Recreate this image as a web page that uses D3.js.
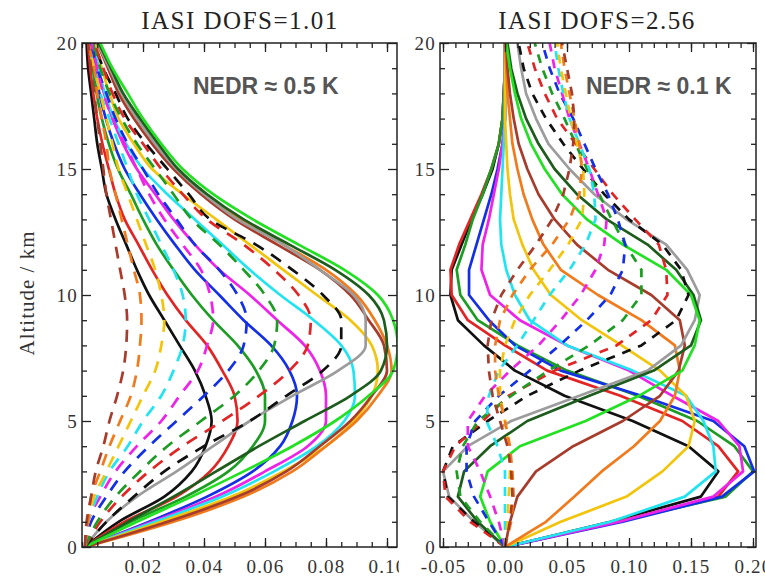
<!DOCTYPE html>
<html><head><meta charset="utf-8">
<script src="https://cdn.jsdelivr.net/npm/d3@7"></script>
<style>body{margin:0;background:#fff}svg{display:block}</style>
</head><body>
<svg id="chart" width="765" height="581"></svg>
<script>
// ---------------- DATA ----------------
const altitudes = [0,1,2,3,4,5,6,7,8,9,10,11,12,13,14,15,16,17,18,19,20];

// Left panel (NEDR ~ 0.5 K), solid kernels
const L_black   = [0.001,0.012,0.027,0.036,0.0405,0.0425,0.0405,0.037,0.032,0.027,0.022,0.018,0.0145,0.011,0.008,0.0065,0.005,0.004,0.003,0.002,0.0015];
const L_red     = [0.001,0.014,0.031,0.042,0.048,0.051,0.050,0.046,0.041,0.034,0.028,0.023,0.0185,0.014,0.011,0.0088,0.0067,0.005,0.0037,0.0027,0.002];
const L_green   = [0.001,0.016,0.034,0.048,0.056,0.060,0.060,0.057,0.051,0.043,0.036,0.030,0.0245,0.020,0.016,0.0118,0.0088,0.0065,0.0048,0.0035,0.0025];
const L_blue    = [0.001,0.022,0.041,0.056,0.065,0.069,0.0705,0.068,0.062,0.053,0.045,0.037,0.0305,0.0245,0.019,0.014,0.0105,0.0078,0.0057,0.0042,0.003];
const L_magenta = [0.001,0.023,0.044,0.060,0.074,0.080,0.080,0.078,0.073,0.064,0.055,0.045,0.037,0.030,0.024,0.018,0.0135,0.010,0.0072,0.005,0.0035];
const L_cyan    = [0.001,0.024,0.046,0.063,0.077,0.086,0.0895,0.089,0.085,0.076,0.065,0.055,0.046,0.037,0.028,0.020,0.0145,0.0105,0.0075,0.0055,0.004];
const L_yellow  = [0.001,0.026,0.049,0.066,0.080,0.089,0.095,0.097,0.095,0.088,0.077,0.066,0.055,0.044,0.033,0.023,0.017,0.012,0.009,0.0065,0.0045];
const L_orange  = [0.001,0.030,0.053,0.069,0.080,0.090,0.097,0.1015,0.100,0.096,0.090,0.080,0.066,0.052,0.040,0.031,0.024,0.018,0.013,0.009,0.005];
const L_brown   = [0.001,0.028,0.051,0.067,0.078,0.088,0.095,0.100,0.099,0.094,0.088,0.078,0.064,0.050,0.039,0.030,0.023,0.017,0.012,0.0085,0.005];
const L_gray    = [0.001,0.008,0.018,0.031,0.043,0.055,0.069,0.084,0.093,0.093,0.089,0.078,0.066,0.051,0.040,0.031,0.024,0.018,0.013,0.009,0.005];
const L_dkgreen = [0.001,0.015,0.030,0.044,0.058,0.073,0.088,0.098,0.100,0.099,0.094,0.083,0.068,0.053,0.041,0.0315,0.025,0.019,0.0135,0.0095,0.0055];
const L_lime    = [0.001,0.018,0.036,0.053,0.069,0.083,0.094,0.102,0.1035,0.102,0.097,0.086,0.071,0.056,0.043,0.033,0.026,0.020,0.015,0.010,0.006];

// Left panel, dashed kernels
const Ld_black   = [0.001,0.008,0.017,0.027,0.040,0.055,0.067,0.079,0.085,0.085,0.079,0.069,0.057,0.042,0.035,0.028,0.021,0.015,0.011,0.007,0.004];
const Ld_red     = [0.001,0.006,0.013,0.022,0.033,0.046,0.058,0.068,0.074,0.075,0.071,0.063,0.053,0.041,0.033,0.026,0.020,0.014,0.010,0.007,0.004];
const Ld_green   = [0.001,0.005,0.011,0.019,0.028,0.039,0.050,0.058,0.063,0.064,0.060,0.053,0.045,0.036,0.030,0.024,0.018,0.013,0.009,0.006,0.0035];
const Ld_blue    = [0.001,0.003,0.008,0.014,0.022,0.031,0.040,0.048,0.053,0.054,0.051,0.045,0.037,0.031,0.025,0.020,0.015,0.011,0.008,0.005,0.003];
const Ld_magenta = [0.001,0.002,0.006,0.011,0.018,0.026,0.032,0.038,0.041,0.043,0.042,0.039,0.033,0.027,0.022,0.018,0.014,0.010,0.007,0.005,0.003];
const Ld_cyan    = [0.001,0.002,0.005,0.009,0.015,0.020,0.026,0.030,0.033,0.034,0.033,0.030,0.026,0.022,0.018,0.015,0.012,0.009,0.006,0.004,0.002];
const Ld_yellow  = [0.001,0.002,0.004,0.008,0.012,0.016,0.020,0.024,0.026,0.027,0.026,0.024,0.021,0.018,0.015,0.012,0.010,0.008,0.006,0.004,0.002];
const Ld_orange  = [0.001,0.002,0.003,0.006,0.009,0.0125,0.016,0.018,0.019,0.0195,0.019,0.017,0.015,0.013,0.011,0.009,0.008,0.0065,0.005,0.004,0.002];
const Ld_brown   = [0.001,0.0015,0.003,0.0045,0.007,0.009,0.0115,0.0135,0.0145,0.0148,0.014,0.0125,0.011,0.0095,0.008,0.007,0.006,0.005,0.004,0.003,0.002];

// Right panel (NEDR ~ 0.1 K), solid kernels
const R_black   = [0,0.085,0.158,0.172,0.148,0.103,0.048,0.008,-0.017,-0.038,-0.044,-0.043,-0.035,-0.027,-0.018,-0.010,-0.005,-0.002,-0.001,0,0];
const R_red     = [0,0.090,0.172,0.188,0.172,0.143,0.093,0.034,0.000,-0.030,-0.043,-0.044,-0.037,-0.028,-0.019,-0.011,-0.005,-0.002,-0.001,0,0];
const R_green   = [0,0.090,0.178,0.200,0.185,0.155,0.107,0.050,0.010,-0.022,-0.036,-0.039,-0.032,-0.026,-0.018,-0.011,-0.005,-0.002,-0.001,0,0];
const R_blue    = [0,0.095,0.175,0.201,0.193,0.168,0.110,0.045,0.008,-0.013,-0.029,-0.029,-0.023,-0.017,-0.011,-0.006,-0.002,0,0,0,0];
const R_magenta = [0,0.092,0.168,0.192,0.189,0.172,0.135,0.100,0.050,0.012,-0.012,-0.019,-0.018,-0.013,-0.009,-0.005,-0.002,0,0,0,0];
const R_cyan    = [0,0.085,0.145,0.170,0.168,0.160,0.146,0.103,0.050,0.020,0.008,0.001,-0.003,-0.004,-0.003,-0.002,-0.001,0,0,0,0];
const R_yellow  = [0,0.045,0.098,0.127,0.148,0.153,0.146,0.125,0.094,0.062,0.037,0.023,0.014,0.007,0.004,0.002,0.001,0,0,0,0];
const R_orange  = [0,0.033,0.056,0.078,0.104,0.125,0.137,0.141,0.137,0.110,0.075,0.045,0.031,0.022,0.015,0.010,0.006,0.004,0.002,0.001,0];
const R_brown   = [0,0.004,0.010,0.025,0.055,0.095,0.125,0.140,0.145,0.141,0.118,0.083,0.058,0.040,0.027,0.018,0.011,0.007,0.004,0.002,0.001];
const R_gray    = [0,-0.025,-0.045,-0.050,-0.030,0.005,0.060,0.115,0.142,0.153,0.157,0.147,0.130,0.098,0.072,0.052,0.035,0.025,0.017,0.013,0.010];
const R_dkgreen = [0,-0.022,-0.038,-0.033,-0.012,0.018,0.068,0.120,0.150,0.158,0.152,0.138,0.115,0.082,0.058,0.040,0.027,0.017,0.010,0.005,0.002];
const R_lime    = [0,-0.012,-0.020,-0.014,0.012,0.065,0.108,0.143,0.153,0.157,0.150,0.130,0.095,0.066,0.046,0.032,0.021,0.013,0.008,0.004,0.001];

// Right panel, dashed kernels
const Rd_black   = [0,-0.025,-0.046,-0.050,-0.042,-0.014,0.018,0.060,0.110,0.138,0.148,0.142,0.127,0.100,0.080,0.063,0.047,0.033,0.022,0.015,0.011];
const Rd_red     = [0,-0.028,-0.048,-0.050,-0.040,-0.018,0.003,0.040,0.090,0.118,0.131,0.130,0.124,0.105,0.087,0.072,0.057,0.042,0.032,0.024,0.018];
const Rd_green   = [0,-0.020,-0.036,-0.039,-0.034,-0.022,0.005,0.035,0.068,0.095,0.110,0.110,0.097,0.086,0.076,0.066,0.057,0.048,0.038,0.030,0.024];
const Rd_blue    = [0,-0.013,-0.025,-0.031,-0.031,-0.024,-0.005,0.020,0.044,0.066,0.085,0.095,0.097,0.091,0.083,0.073,0.064,0.055,0.044,0.036,0.030];
const Rd_magenta = [0,-0.005,-0.012,-0.020,-0.030,-0.030,-0.016,0.004,0.027,0.045,0.061,0.073,0.080,0.082,0.075,0.068,0.060,0.052,0.046,0.040,0.036];
const Rd_cyan    = [0,0,0,0,-0.006,-0.015,-0.013,-0.005,0.010,0.023,0.036,0.052,0.065,0.073,0.072,0.068,0.060,0.052,0.047,0.043,0.040];
const Rd_yellow  = [0,0.002,0.003,0.004,0.003,0,-0.004,-0.004,0,0.008,0.020,0.036,0.051,0.062,0.064,0.063,0.058,0.053,0.049,0.045,0.042];
const Rd_orange  = [0,0.005,0.007,0.006,0.004,0,-0.005,-0.008,-0.008,-0.004,0.006,0.020,0.038,0.052,0.060,0.062,0.060,0.056,0.052,0.048,0.045];
const Rd_brown   = [0,0.004,0.006,0.005,0.002,-0.004,-0.010,-0.013,-0.014,-0.011,-0.003,0.010,0.025,0.038,0.047,0.052,0.055,0.056,0.054,0.050,0.046];

const leftXTicks  = [0.02,0.04,0.06,0.08,0.10];
const rightXTicks = [-0.05,0.00,0.05,0.10,0.15,0.20];
const yTicks      = [0,5,10,15,20];
const titles      = ["IASI DOFS=1.01","IASI DOFS=2.56"];
const notes       = ["NEDR \u2248 0.5 K","NEDR \u2248 0.1 K"];
const yLabel      = "Altitude / km";

// ---------------- STYLE ----------------
const colors = {black:"#111111", red:"#e22424", green:"#1c9c22", blue:"#1430e6", magenta:"#ee22e8",
  cyan:"#22e4f0", yellow:"#f2c40c", orange:"#f07a1c", brown:"#a83c2c", gray:"#9c9c9c",
  dkgreen:"#1d5c1d", lime:"#22e022"};

const leftSolid  = [["black",L_black],["red",L_red],["green",L_green],["blue",L_blue],["magenta",L_magenta],["cyan",L_cyan],["yellow",L_yellow],["orange",L_orange],["brown",L_brown],["gray",L_gray],["dkgreen",L_dkgreen],["lime",L_lime]];
const leftDash   = [["black",Ld_black],["red",Ld_red],["green",Ld_green],["blue",Ld_blue],["magenta",Ld_magenta],["cyan",Ld_cyan],["yellow",Ld_yellow],["orange",Ld_orange],["brown",Ld_brown]];
const rightSolid = [["black",R_black],["red",R_red],["green",R_green],["blue",R_blue],["magenta",R_magenta],["cyan",R_cyan],["yellow",R_yellow],["orange",R_orange],["brown",R_brown],["gray",R_gray],["dkgreen",R_dkgreen],["lime",R_lime]];
const rightDash  = [["black",Rd_black],["red",Rd_red],["green",Rd_green],["blue",Rd_blue],["magenta",Rd_magenta],["cyan",Rd_cyan],["yellow",Rd_yellow],["orange",Rd_orange],["brown",Rd_brown]];

const svg = d3.select("#chart");
svg.append("rect").attr("width",765).attr("height",581).attr("fill","#fff");

const Y0 = 547, Y1 = 43;
const serif = "'Liberation Serif','Times New Roman',serif";

function drawPanel(o) {
  const g = svg.append("g");
  g.append("rect").attr("x",o.bgX).attr("y",0).attr("width",o.bgW).attr("height",581).attr("fill","#fff");
  const x = d3.scaleLinear().domain(o.xDomain).range([o.x0,o.x1]);
  const y = d3.scaleLinear().domain([0,20]).range([Y0,Y1]);

  const clipId = "clip"+o.id;
  svg.append("defs").append("clipPath").attr("id",clipId)
    .append("rect").attr("x",o.x0).attr("y",Y1).attr("width",o.x1-o.x0).attr("height",Y0-Y1);

  const line = d3.line().x(d=>x(d[1])).y(d=>y(d[0])).curve(o.curve);
  const plot = g.append("g").attr("clip-path",`url(#${clipId})`);
  const all = o.solid.map(s=>({c:s[0],v:s[1],dash:false})).concat(o.dash.map(s=>({c:s[0],v:s[1],dash:true})));
  plot.selectAll("path.k").data(all).join("path").attr("class","k")
    .attr("d",d=>line(altitudes.map((a,i)=>[a,d.v[i]])))
    .attr("fill","none").attr("stroke",d=>colors[d.c]).attr("stroke-width",2.7)
    .attr("stroke-linejoin","round")
    .attr("stroke-dasharray",d=>d.dash?o.dashArr:null);

  // axes with inward ticks on all four sides
  const tickStyle = sel => { sel.select(".domain").remove(); sel.selectAll("line").attr("stroke","#222").attr("stroke-width",1.3);
    sel.selectAll("text").attr("font-family",serif).attr("font-size",19).attr("fill","#333").attr("letter-spacing","1.2px"); };
  const minorX = d3.range(Math.ceil(o.xDomain[0]/o.minorX), Math.floor(o.xDomain[1]/o.minorX)+1).map(k=>+(k*o.minorX).toFixed(4));
  const minorY = [1,2,3,4,6,7,8,9,11,12,13,14,16,17,18,19];

  g.append("g").attr("transform",`translate(0,${Y0})`).call(d3.axisBottom(x).tickValues(o.xTicks).tickSize(-9).tickPadding(13).tickFormat(d=>d.toFixed(2))).call(tickStyle);
  g.append("g").attr("transform",`translate(0,${Y0})`).call(d3.axisBottom(x).tickValues(minorX).tickSize(-5).tickFormat("")).call(tickStyle);
  g.append("g").attr("transform",`translate(0,${Y1})`).call(d3.axisTop(x).tickValues(o.xTicks).tickSize(-9).tickFormat("")).call(tickStyle);
  g.append("g").attr("transform",`translate(0,${Y1})`).call(d3.axisTop(x).tickValues(minorX).tickSize(-5).tickFormat("")).call(tickStyle);
  g.append("g").attr("transform",`translate(${o.x0},0)`).call(d3.axisLeft(y).tickValues(yTicks).tickSize(-9).tickPadding(4).tickFormat(d3.format("d"))).call(tickStyle);
  g.append("g").attr("transform",`translate(${o.x0},0)`).call(d3.axisLeft(y).tickValues(minorY).tickSize(-5).tickFormat("")).call(tickStyle);
  g.append("g").attr("transform",`translate(${o.x1},0)`).call(d3.axisRight(y).tickValues(yTicks).tickSize(-9).tickFormat("")).call(tickStyle);
  g.append("g").attr("transform",`translate(${o.x1},0)`).call(d3.axisRight(y).tickValues(minorY).tickSize(-5).tickFormat("")).call(tickStyle);

  g.append("rect").attr("x",o.x0).attr("y",Y1).attr("width",o.x1-o.x0).attr("height",Y0-Y1)
    .attr("fill","none").attr("stroke","#222").attr("stroke-width",1.5);

  g.append("text").attr("x",o.titleX).attr("y",29).attr("text-anchor","middle")
    .attr("font-family",serif).attr("font-size",25).attr("fill","#222").attr("letter-spacing","1.5px")
    .text(o.title);
  g.append("text").attr("x",o.noteX).attr("y",94)
    .attr("font-family","'Liberation Sans',Arial,sans-serif").attr("font-weight","bold").attr("font-size",23).attr("fill","#555")
    .text(o.note);
}

drawPanel({id:"L", bgX:0, bgW:399, x0:82, x1:397, xDomain:[0,0.10328], xTicks:leftXTicks, minorX:0.005,
  solid:leftSolid, dash:leftDash, dashArr:"12,9", curve:d3.curveMonotoneY, title:titles[0], titleX:240, note:notes[0], noteX:193});
drawPanel({id:"R", bgX:399, bgW:366, x0:440, x1:756, xDomain:[-0.05242,0.20242], xTicks:rightXTicks, minorX:0.01,
  solid:rightSolid, dash:rightDash, dashArr:"9,8", curve:d3.curveLinear, title:titles[1], titleX:597, note:notes[1], noteX:586});

svg.append("text").attr("transform","translate(34,293) rotate(-90)").attr("text-anchor","middle")
  .attr("font-family",serif).attr("font-size",21).attr("fill","#333").attr("letter-spacing","1px").text(yLabel);
</script>
</body></html>
